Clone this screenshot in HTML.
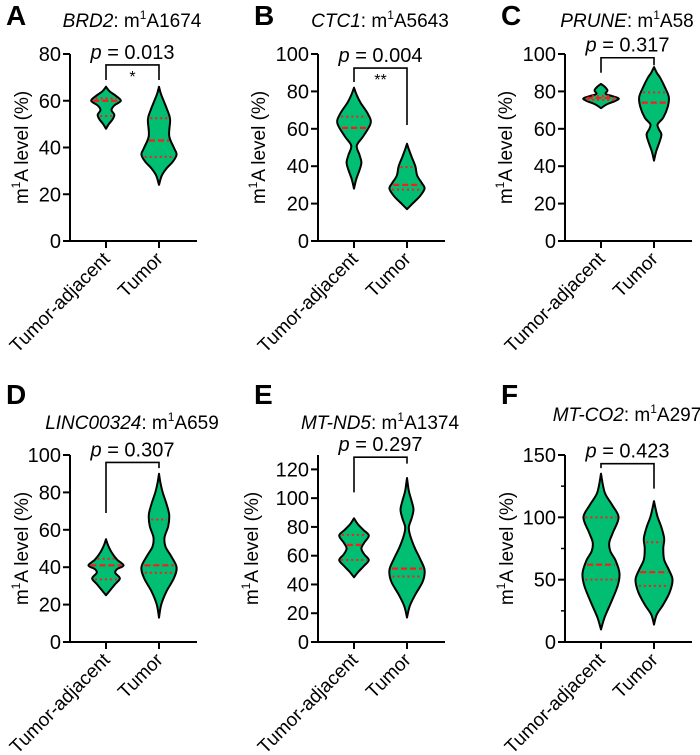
<!DOCTYPE html>
<html><head><meta charset="utf-8"><style>
body{margin:0;background:#fff;}
svg{display:block;font-family:"Liberation Sans",Arial,sans-serif;}
</style></head><body>
<svg id="fig" width="700" height="755" viewBox="0 0 700 755"></svg>
<script>
// ---- data ----
const panelLetters = ["A","B","C","D","E","F"];
const geneNames = ["BRD2","CTC1","PRUNE","LINC00324","MT-ND5","MT-CO2"];
const siteNames = ["A1674","A5643","A58","A659","A1374","A297"];
const categories = ["Tumor-adjacent","Tumor"];
const pValues = ["0.013","0.004","0.317","0.307","0.297","0.423"];
const sigMarks = ["*","**","","","",""];
const yMax = [80,100,100,100,130,150];
const yTicks = [[0,20,40,60,80],[0,20,40,60,80,100],[0,20,40,60,80,100],[0,20,40,60,80,100],[0,20,40,60,80,100,120],[0,50,100,150]];
const yMinorTicks = [[],[],[],[],[],[25,75,125]];
// bracket: [top value, left leg end value, right leg end value]
const brackets = [[75.3,68.9,68.9],[92.5,85,62],[98,90,94],[96,69,93],[128.5,104,124],[143,139.5,123]];
// violin profiles: [value, relative half-width]
const adjProfiles = [
 [[48,0],[50,0.15],[52,0.35],[54,0.45],[56,0.3],[58,0.45],[60,0.8],[62,0.55],[64,0.2],[66,0]],
 [[28,0],[33,0.12],[38,0.3],[42,0.4],[46,0.3],[51,0.15],[56,0.5],[63,0.9],[68,0.75],[74,0.35],[78,0.15],[82,0]],
 [[71,0],[73,0.3],[75,0.8],[76.3,0.95],[77.5,0.6],[78.7,0.25],[80.5,0.35],[82.5,0.2],[84,0]],
 [[25,0],[28,0.25],[31,0.5],[34,0.75],[37,0.5],[39,0.6],[41,0.95],[44,0.6],[48,0.3],[52,0.1],[55,0]],
 [[45,0],[49,0.25],[53,0.55],[57,0.8],[61,0.55],[65,0.4],[69,0.55],[74,0.8],[78,0.5],[82,0.2],[86,0]],
 [[10,0],[20,0.2],[32,0.55],[45,0.9],[55,1.0],[65,0.8],[73,0.5],[80,0.45],[88,0.65],[100,0.95],[110,0.6],[120,0.2],[135,0]]
];
const tumProfiles = [
 [[24,0],[28,0.15],[31,0.4],[34,0.75],[37,0.95],[40,0.8],[45,0.55],[52,0.6],[56,0.45],[60,0.25],[63,0.1],[66,0]],
 [[17,0],[20,0.3],[24,0.7],[28,0.95],[31,0.8],[35,0.55],[40,0.45],[45,0.25],[49,0.1],[52,0]],
 [[43,0],[48,0.12],[53,0.3],[57,0.4],[60,0.25],[62.5,0.2],[66,0.5],[72,0.75],[77,0.8],[82,0.6],[87,0.35],[90,0.15],[93,0]],
 [[13,0],[20,0.12],[27,0.4],[34,0.8],[40,0.95],[46,0.65],[51,0.35],[56,0.3],[62,0.5],[68,0.55],[74,0.4],[80,0.2],[85,0.08],[90,0]],
 [[17,0],[25,0.15],[33,0.45],[42,0.85],[50,0.95],[58,0.7],[66,0.4],[75,0.15],[80,0.1],[86,0.25],[92,0.35],[98,0.25],[105,0.1],[114,0]],
 [[14,0],[22,0.15],[30,0.5],[40,0.85],[50,1.0],[58,0.8],[66,0.55],[75,0.5],[83,0.55],[92,0.4],[100,0.2],[106,0.1],[113,0]]
];
const adjMedians = [60,60.5,76.5,41,67.5,62];
const tumMedians = [43,30,74,41,51,56];
const adjQuartiles = [[53.5,61],[66.5],[75.5,77.5],[33.5,44.5],[57,74.5],[50,100]];
const tumQuartiles = [[36,52.5],[27.5,39.5],[79.5],[37,65.5],[45.5],[45,80]];

// ---- layout ----
const axisX = [70,318,565,70,318,565];
const axisBottom = [241,241,241,642,642,642];
const yTitleOff = [42,53,53,42,60,52];
const axisH = 187;
const catOff = [36,89];
const axisLen = 127;
const halfMax = 18.5;
const NS = "http://www.w3.org/2000/svg";
const svg = document.getElementById('fig');
function mk(tag, attrs, parent){const e=document.createElementNS(NS,tag);for(const k in attrs)e.setAttribute(k,attrs[k]);(parent||svg).appendChild(e);return e;}

function catmull(pts){
  let d="M"+pts[0][0]+","+pts[0][1];
  for(let i=0;i<pts.length-1;i++){
    const p0=pts[Math.max(0,i-1)],p1=pts[i],p2=pts[i+1],p3=pts[Math.min(pts.length-1,i+2)];
    const c1=[p1[0]+(p2[0]-p0[0])/6,p1[1]+(p2[1]-p0[1])/6];
    const c2=[p2[0]-(p3[0]-p1[0])/6,p2[1]-(p3[1]-p1[1])/6];
    d+=" C"+c1[0].toFixed(2)+","+c1[1].toFixed(2)+" "+c2[0].toFixed(2)+","+c2[1].toFixed(2)+" "+p2[0].toFixed(2)+","+p2[1].toFixed(2);
  }
  return d;
}

for(let p=0;p<6;p++){
  const g=mk('g',{});
  
  
  const ax=axisX[p], ab=axisBottom[p];
  const y=v=>ab-v/yMax[p]*axisH;
  const x=i=>ax+catOff[i];
  const row2=p>=3;
  const L=mk('text',{x:ax-64,y:row2?404:25,'font-size':28,'font-weight':'bold',fill:'#000'},g);
  L.textContent=panelLetters[p];
  
  
  const titleY=row2?(p===5?421:429):27;
  const T=mk('text',{x:ax+62,y:titleY,'font-size':19,'text-anchor':'middle',fill:'#000'},g);
  
  
  const t1=mk('tspan',{'font-style':'italic'},T);t1.textContent=geneNames[p];
  const t2=mk('tspan',{},T);t2.textContent=": m";
  const t3=mk('tspan',{dy:-8,'font-size':12},T);t3.textContent="1";
  const t4=mk('tspan',{dy:8},T);t4.textContent=siteNames[p];
  const yl=mk('text',{transform:`translate(${ax-yTitleOff[p]},${ab-axisH/2}) rotate(-90)`,'font-size':19,'text-anchor':'middle',fill:'#000'},g);
  
  
  const a1=mk('tspan',{},yl);a1.textContent="m";
  const a2=mk('tspan',{dy:-8,'font-size':12},yl);a2.textContent="1";
  const a3=mk('tspan',{dy:8},yl);a3.textContent="A level (%)";
  const ya=mk('line',{x1:ax,y1:ab,x2:ax,y2:ab-axisH,stroke:'#000','stroke-width':2},g);
  
  
  const xa=mk('line',{x1:ax-1,y1:ab,x2:ax+axisLen,y2:ab,stroke:'#000','stroke-width':2},g);
  
  
  yTicks[p].forEach(v=>{
    mk('line',{x1:ax-7,y1:y(v),x2:ax,y2:y(v),stroke:'#000','stroke-width':2},g);
    const tl=mk('text',{x:ax-9,y:y(v)+7,'font-size':20,'text-anchor':'end',fill:'#000'},g);
    tl.textContent=v;
    
    
  });
  yMinorTicks[p].forEach(v=>{mk('line',{x1:ax-4,y1:y(v),x2:ax,y2:y(v),stroke:'#000','stroke-width':1.5},g);});
  categories.forEach((c,i)=>{
    mk('line',{x1:x(i),y1:ab,x2:x(i),y2:ab+7,stroke:'#000','stroke-width':2},g);
    const cl=mk('text',{transform:`translate(${x(i)+5},${ab+19}) rotate(-45)`,'font-size':19,'text-anchor':'end',fill:'#000'},g);
    cl.textContent=c;
    
    
  });
  [[adjProfiles[p],adjMedians[p],adjQuartiles[p]],[tumProfiles[p],tumMedians[p],tumQuartiles[p]]].forEach((vd,i)=>{
    const prof=vd[0], cx=x(i);
    const right=prof.map(q=>[cx+q[1]*halfMax,y(q[0])]);
    const left=prof.slice().reverse().map(q=>[cx-q[1]*halfMax,y(q[0])]);
    const d=catmull(right)+" "+catmull(left).replace(/^M/,"L")+" Z";
    const vp=mk('path',{d:d,fill:'#00bf73',stroke:'#000','stroke-width':2,'stroke-linejoin':'round'},g);
    
    
    const wAt=v=>{for(let k=0;k<prof.length-1;k++){if(v>=prof[k][0]&&v<=prof[k+1][0]){const t=(v-prof[k][0])/(prof[k+1][0]-prof[k][0]);return (prof[k][1]+t*(prof[k+1][1]-prof[k][1]))*halfMax;}}return 0;};
    const mw=Math.max(wAt(vd[1])-2,3);
    const ml=mk('line',{x1:cx-mw,y1:y(vd[1]),x2:cx+mw,y2:y(vd[1]),stroke:'#ff1a1a','stroke-width':2.2,'stroke-dasharray':'6,3'},g);
    
    
    vd[2].forEach(qv=>{
      const qw=Math.max(wAt(qv)-2,3);
      const ql=mk('line',{x1:cx-qw,y1:y(qv),x2:cx+qw,y2:y(qv),stroke:'#ff1a1a','stroke-width':2,'stroke-dasharray':'2,3'},g);
      
      
    });
  });
  const b=brackets[p];
  const bp=mk('path',{d:`M${x(0)},${y(b[1])} L${x(0)},${y(b[0])} L${x(1)},${y(b[0])} L${x(1)},${y(b[2])}`,fill:'none',stroke:'#000','stroke-width':1.6},g);
  
  
  const pt=mk('text',{x:(x(0)+x(1))/2,y:y(b[0])-6,'font-size':20,'text-anchor':'middle',fill:'#000'},g);
  
  
  const pi=mk('tspan',{'font-style':'italic'},pt);pi.textContent="p";
  const pr=mk('tspan',{},pt);pr.textContent=" = "+pValues[p];
  if(sigMarks[p]){
    const st=mk('text',{x:(x(0)+x(1))/2,y:y(b[0])+17,'font-size':16,'text-anchor':'middle',fill:'#000'},g);
    st.textContent=sigMarks[p];
    
    
  }
}
</script>
</body></html>
